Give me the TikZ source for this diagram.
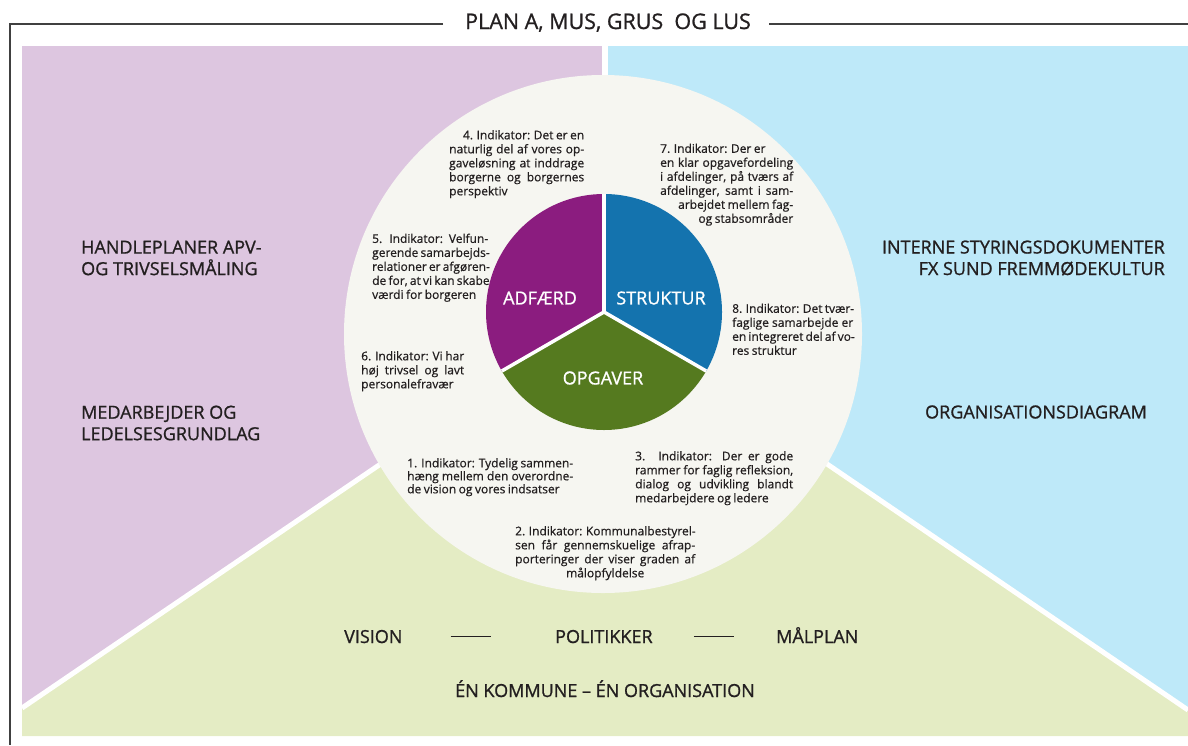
\documentclass[tikz,border=0pt]{standalone}
\usepackage{fontspec}
\setmainfont{Open Sans}
\newfontfamily\halvfed{Open Sans}[FakeBold=1.0]
\newfontfamily\indfont{Open Sans}[FakeBold=0.6, WordSpace={0.8,1,1.6}]
\usetikzlibrary{positioning}

\definecolor{lila}{HTML}{DDC6E0}
\definecolor{lyseblaa}{HTML}{BEE9F9}
\definecolor{lysegroen}{HTML}{E4ECC4}
\definecolor{cirkel}{HTML}{F6F6F1}
\definecolor{adfcol}{HTML}{8B1C7F}
\definecolor{strcol}{HTML}{1473AE}
\definecolor{opgcol}{HTML}{557A1F}
\definecolor{tekst}{HTML}{231F20}

\tikzset{
  felt/.style={font=\halvfed\fontsize{18}{21.5}\selectfont, text=tekst, inner sep=0pt},
  lagkage/.style={font=\halvfed\fontsize{18}{21.5}\selectfont, text=white, inner sep=0pt},
  indikator/.style={font=\indfont\fontsize{12}{14}\selectfont, text=tekst, inner sep=0pt, anchor=north west, align=justify,
    execute at begin node={\rightskip=0pt minus 8pt\relax}},
  skille/.style={white, line width=5pt},
  ramme/.style={draw=black!75, line width=1.5pt},
  streg/.style={draw=tekst, line width=1.4pt},
}

\begin{document}
\begin{tikzpicture}[x=1pt,y=-1pt]
  \useasboundingbox (0,0) rectangle (1188,745);

  \fill[lila] (22,46) rectangle (602,736);
  \fill[lyseblaa] (608,46) rectangle (1188,736);
  \coordinate (pc) at (604,312);
  \coordinate (cc) at (603,334);
  \fill[lysegroen] (22,708) -- (pc) -- (1188,710) -- (1188,736) -- (22,736) -- cycle;
  \draw[skille] (22,708) -- (pc) -- (1188,710);
  \fill[cirkel] (cc) circle[radius=259];

  \begin{scope}
    \clip (pc) circle[radius=118];
    \fill[adfcol] (pc) -- +(-90:200) -- +(-150:250) -- +(-210:200) -- cycle;
    \fill[strcol] (pc) -- +(-90:200) -- +(-30:250) -- +(30:200) -- cycle;
    \fill[opgcol] (pc) -- +(30:200) -- +(90:250) -- +(150:200) -- cycle;
    \foreach \v in {-90,30,150}
      \draw[white, line width=3.5pt] (pc) -- +(\v:150);
  \end{scope}

  \node[font=\halvfed\fontsize{21.5}{24}\selectfont, text=tekst, inner sep=0pt, anchor=base] (titel) at (608,29) {PLAN A, MUS, GRUS~ OG LUS};
  \draw[ramme] (443,24) -| (10,745);
  \draw[ramme] (769,24) -- (1188,24);

  \node[lagkage] (adf) at (540,298) {ADFÆRD};
  \node[lagkage] (struk) at (661,298) {STRUKTUR};
  \node[lagkage] (opg) at (603,378) {OPGAVER};

  \node[felt, anchor=west, align=left] (handl) at (81,258) {HANDLEPLANER APV-\\OG TRIVSELSMÅLING};
  \node[felt, anchor=west, align=left] (medarb) at (81,423) {MEDARBEJDER OG\\LEDELSESGRUNDLAG};
  \node[felt, anchor=east, align=right] (interne) at (1165,258) {INTERNE STYRINGSDOKUMENTER\\FX SUND FREMMØDEKULTUR};
  \node[felt] (orgdia) at (1036,412) {ORGANISATIONSDIAGRAM};

  \node[felt, anchor=base west] (vision) at (344,643) {VISION};
  \node[felt, anchor=base west] (polit) at (555,643) {POLITIKKER};
  \node[felt, anchor=base west] (malplan) at (776,643) {MÅLPLAN};
  \node[felt, anchor=base] (enkom) at (605,697) {ÉN KOMMUNE – ÉN ORGANISATION};
  \draw[streg, shorten <=48pt, shorten >=64pt] (vision.east) -- (polit.west);
  \draw[streg, shorten <=41pt, shorten >=42pt] (polit.east) -- (polit.east -| malplan.west);

  \node[indikator, text width=135pt] (ind4) at (449,130) {\hspace*{\fill}4. Indikator: Det er en\linebreak naturlig del af vores op-\linebreak gaveløsning at inddrage\linebreak borgerne og borgernes\linebreak perspektiv};
  \node[indikator, text width=116pt] (ind5) at (372,233.5) {5. Indikator: Velfun-\linebreak gerende samarbejds-\linebreak relationer er afgøren-\linebreak de for, at vi kan skabe\linebreak værdi for borgeren};
  \node[indikator, text width=103pt] (ind6) at (361,351) {6. Indikator: Vi har\linebreak høj trivsel og lavt\linebreak personalefravær};
  \node[indikator, text width=133pt] (ind7) at (660,143.5) {7. Indikator: Der er\newline en klar opgavefordeling\linebreak i afdelinger, på tværs af\linebreak afdelinger, samt i sam-\linebreak \hspace*{\fill}arbejdet mellem fag-\linebreak \hspace*{\fill}og stabsområder};
  \node[indikator, text width=121pt] (ind8) at (732,303.5) {8. Indikator: Det tvær-\linebreak faglige samarbejde er\linebreak en integreret del af vo-\linebreak res struktur};
  \node[indikator, text width=166pt, font=\indfont\fontsize{12}{13}\selectfont] (ind1) at (407,458) {1. Indikator: Tydelig sammen-\linebreak hæng mellem den overordne-\linebreak de vision og vores indsatser};
  \node[indikator, text width=158pt] (ind3) at (635,451) {3. Indikator: Der er gode\linebreak rammer for faglig refleksion,\linebreak dialog og udvikling blandt\linebreak medarbejdere og ledere};
  \node[indikator, text width=180pt] (ind2) at (515,526) {2. Indikator: Kommunalbestyrel-\linebreak sen får gennemskuelige afrap-\linebreak porteringer der viser graden af\linebreak \hspace*{\fill}målopfyldelse\hspace*{\fill}};
\end{tikzpicture}
\end{document}
